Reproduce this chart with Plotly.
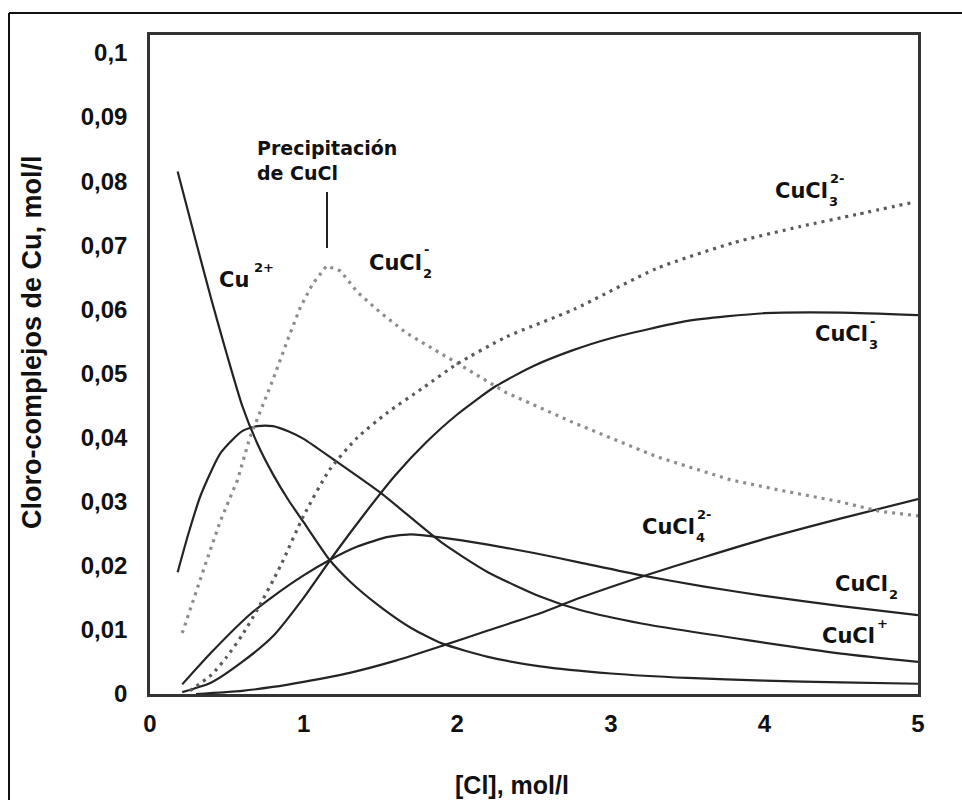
import plotly.graph_objects as go

# ---------------- data ----------------
cu2_x = [0.18, 0.3, 0.4, 0.5, 0.6, 0.7, 0.8, 0.9, 1.0, 1.17, 1.3, 1.5, 1.7, 1.9, 2.2, 2.54, 3.0, 3.5, 4.0, 4.5, 5.0]
cu2_y = [0.0815, 0.0705, 0.0615, 0.053, 0.045, 0.039, 0.0343, 0.0303, 0.0268, 0.0209, 0.0176, 0.0136, 0.0103, 0.0079, 0.0058, 0.0043, 0.0032, 0.0025, 0.0021, 0.0018, 0.0016]

cucl_x = [0.18, 0.25, 0.33, 0.46, 0.6, 0.7, 0.8, 0.9, 1.0, 1.2, 1.5, 1.9, 2.2, 2.54, 2.8, 3.2, 3.89, 4.5, 5.0]
cucl_y = [0.019, 0.025, 0.031, 0.0376, 0.041, 0.0418, 0.0418, 0.041, 0.0398, 0.0365, 0.0314, 0.0236, 0.019, 0.0152, 0.0131, 0.011, 0.0084, 0.0063, 0.005]

cucl2_x = [0.21, 0.4, 0.65, 0.8, 1.0, 1.17, 1.35, 1.55, 1.7, 1.9, 2.2, 2.5, 2.8, 3.2, 3.6, 4.0, 4.5, 5.0]
cucl2_y = [0.0015, 0.0065, 0.0124, 0.0152, 0.0185, 0.0209, 0.023, 0.0245, 0.0249, 0.0244, 0.0233, 0.022, 0.0205, 0.0185, 0.0168, 0.0153, 0.0137, 0.0123]

cucl3m_x = [0.21, 0.4, 0.6, 0.8, 1.0, 1.2, 1.4, 1.6, 1.8, 2.0, 2.25, 2.5, 2.75, 3.0, 3.5, 4.0, 4.5, 5.0]
cucl3m_y = [0.0003, 0.0018, 0.005, 0.009, 0.015, 0.0218, 0.0282, 0.0342, 0.0393, 0.0436, 0.048, 0.0512, 0.0536, 0.0555, 0.0582, 0.0594, 0.0595, 0.0591]

cucl4_x = [0.3, 0.6, 0.8, 1.0, 1.3, 1.6, 1.9, 2.2, 2.54, 2.8, 3.24, 3.6, 4.0, 4.5, 5.0]
cucl4_y = [0.0, 0.0005, 0.0011, 0.0019, 0.0033, 0.0052, 0.0075, 0.0099, 0.0126, 0.015, 0.0186, 0.0213, 0.0242, 0.0274, 0.0304]

cucl2m_x = [0.21, 0.3, 0.37, 0.46, 0.57, 0.65, 0.8, 0.9, 0.98, 1.06, 1.15, 1.24, 1.35, 1.5, 1.67, 2.0, 2.32, 2.76, 3.3, 3.78, 4.1, 4.49, 4.75, 5.0]
cucl2m_y = [0.0095, 0.016, 0.0209, 0.0271, 0.0334, 0.040, 0.049, 0.0555, 0.0604, 0.064, 0.0668, 0.066, 0.0627, 0.0595, 0.0563, 0.0516, 0.047, 0.0423, 0.037, 0.0334, 0.0318, 0.030, 0.0285, 0.0278]

cucl3_2m_x = [0.26, 0.4, 0.5, 0.6, 0.7, 0.85, 1.0, 1.17, 1.35, 1.54, 1.78, 2.0, 2.32, 2.76, 3.3, 3.8, 4.23, 4.6, 4.95]
cucl3_2m_y = [0.0005, 0.003, 0.0058, 0.0092, 0.0132, 0.02, 0.0278, 0.035, 0.040, 0.0438, 0.0478, 0.0515, 0.0557, 0.060, 0.0664, 0.0704, 0.0729, 0.0748, 0.0766]

x_ticks = [0, 1, 2, 3, 4, 5]
x_ticktext = ["0", "1", "2", "3", "4", "5"]
y_ticks = [0, 0.01, 0.02, 0.03, 0.04, 0.05, 0.06, 0.07, 0.08, 0.09, 0.1]
y_ticktext = ["0", "0,01", "0,02", "0,03", "0,04", "0,05", "0,06", "0,07", "0,08", "0,09", "0,1"]

x_title = "[Cl], mol/l"
y_title = "Cloro-complejos de Cu, mol/l"

# ---------------- layout geometry ----------------
W, H = 962, 800
L, R, T, B = 150, 44, 35, 106
PW, PH = W - L - R, H - T - B
YMAX = 0.1028


def px(xp):
    return (xp - L) / PW


def py(yp):
    return (H - B - yp) / PH


SOLID = "#242424"
fig = go.Figure()


def solid(x, y):
    fig.add_trace(go.Scatter(x=x, y=y, mode="lines",
                             line=dict(color=SOLID, width=2.2, shape="spline", smoothing=0.6),
                             hoverinfo="skip", showlegend=False))


def dotted(x, y, color, shape="spline"):
    fig.add_trace(go.Scatter(x=x, y=y, mode="lines",
                             line=dict(color=color, width=3.2, dash="3px,5px", shape=shape, smoothing=0.6),
                             hoverinfo="skip", showlegend=False))


solid(cu2_x, cu2_y)
solid(cucl_x, cucl_y)
solid(cucl2_x, cucl2_y)
solid(cucl3m_x, cucl3m_y)
solid(cucl4_x, cucl4_y)
dotted(cucl2m_x, cucl2m_y, "#8c8c8c", shape="linear")
dotted(cucl3_2m_x, cucl3_2m_y, "#5a5a5a")

TICKFONT = dict(family="Liberation Sans, Arial", size=24, color="#111", weight="bold")
LBL = dict(family="DejaVu Sans, Verdana", size=21, color="#111", weight="bold")
SUP = dict(family="DejaVu Sans, Verdana", size=13, color="#111", weight="bold")
SUB = dict(family="DejaVu Sans, Verdana", size=13, color="#111", weight="bold")

annotations = []


def label(text, xp, yp, font=LBL, xanchor="left", yanchor="middle", angle=0, align="left"):
    annotations.append(dict(text=text, x=px(xp), y=py(yp), xref="paper", yref="paper",
                            xanchor=xanchor, yanchor=yanchor, showarrow=False,
                            font=font, textangle=angle, align=align))


def species(xl, yc, sub=None, sup=None):
    label("CuCl", xl, yc)
    if sub:
        label(sub, xl + 54, yc + 10, font=SUB)
    if sup:
        label(sup, xl + 55, yc - 13, font=SUP)


label("Precipitación<br>de CuCl", 255, 160, font=dict(LBL, size=19))
label("Cu", 217, 280)
label("2+", 252, 267, font=SUP)
species(367, 263, "2", "-")
species(773, 191, "3", "2-")
species(813, 334, "3", "-")
species(640, 527, "4", "2-")
species(833, 584, "2", None)
species(820, 636, None, "+")

TITLEFONT = dict(family="Liberation Sans, Arial", size=25, color="#111", weight="bold")
label(x_title, 512, 785, font=TITLEFONT, xanchor="center")
label(y_title, 32, 342, font=dict(TITLEFONT, size=27), xanchor="center", angle=-90)

shapes = [
    # arrow line for the precipitation note
    dict(type="line", xref="paper", yref="paper", x0=px(327), x1=px(327), y0=py(192), y1=py(248),
         line=dict(color="#222", width=2)),
    # outer frame (top and left)
    dict(type="line", xref="paper", yref="paper", x0=px(9), x1=px(963), y0=py(13), y1=py(13),
         line=dict(color="#111", width=2)),
    dict(type="line", xref="paper", yref="paper", x0=px(9), x1=px(9), y0=py(13), y1=py(801),
         line=dict(color="#111", width=2)),
]

fig.update_layout(
    width=W, height=H,
    margin=dict(l=L, r=R, t=T, b=B),
    paper_bgcolor="white", plot_bgcolor="white",
    showlegend=False,
    annotations=annotations,
    shapes=shapes,
    xaxis=dict(range=[0, 5], tickvals=x_ticks, ticktext=x_ticktext, showgrid=False, zeroline=False,
               showline=True, mirror=True, linecolor="#333", linewidth=2.5, ticks="",
               tickfont=TICKFONT, ticklabelstandoff=6),
    yaxis=dict(range=[0, YMAX], tickvals=y_ticks, ticktext=y_ticktext, showgrid=False, zeroline=False,
               showline=True, mirror=True, linecolor="#333", linewidth=2.5, ticks="",
               tickfont=TICKFONT, ticklabelstandoff=15),
)

fig.write_html("out.html", config={"displayModeBar": False},
               post_script="document.body.style.margin='0px';document.body.style.overflow='hidden';")
